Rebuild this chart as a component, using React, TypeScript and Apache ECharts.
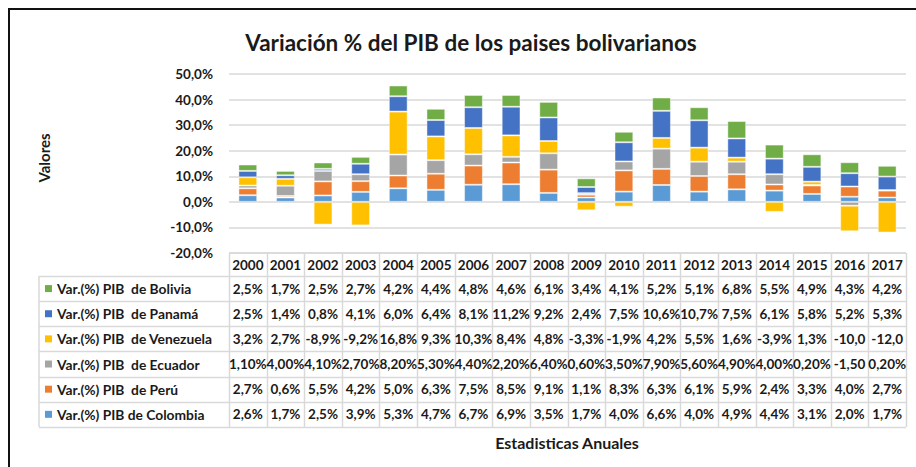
import React, { useEffect, useRef } from "react";
import * as echarts from "echarts";

const years = ["2000","2001","2002","2003","2004","2005","2006","2007","2008","2009","2010","2011","2012","2013","2014","2015","2016","2017"];
const colombia = [2.6,1.7,2.5,3.9,5.3,4.7,6.7,6.9,3.5,1.7,4.0,6.6,4.0,4.9,4.4,3.1,2.0,1.7];
const peru = [2.7,0.6,5.5,4.2,5.0,6.3,7.5,8.5,9.1,1.1,8.3,6.3,6.1,5.9,2.4,3.3,4.0,2.7];
const ecuador = [1.1,4.0,4.1,2.7,8.2,5.3,4.4,2.2,6.4,0.6,3.5,7.9,5.6,4.9,4.0,0.2,-1.5,0.2];
const venezuela = [3.2,2.7,-8.9,-9.2,16.8,9.3,10.3,8.4,4.8,-3.3,-1.9,4.2,5.5,1.6,-3.9,1.3,-10.0,-12.0];
const panama = [2.5,1.4,0.8,4.1,6.0,6.4,8.1,11.2,9.2,2.4,7.5,10.6,10.7,7.5,6.1,5.8,5.2,5.3];
const bolivia = [2.5,1.7,2.5,2.7,4.2,4.4,4.8,4.6,6.1,3.4,4.1,5.2,5.1,6.8,5.5,4.9,4.3,4.2];

const seriesDefs = [
  { name: "Var.(%) PIB de Colombia", data: colombia, color: "#5B9BD5", decimals: 1 },
  { name: "Var.(%) PIB  de Perú", data: peru, color: "#ED7D31", decimals: 1 },
  { name: "Var.(%) PIB  de Ecuador", data: ecuador, color: "#A5A5A5", decimals: 2 },
  { name: "Var.(%) PIB  de Venezuela", data: venezuela, color: "#FFC000", decimals: 1 },
  { name: "Var.(%) PIB  de Panamá", data: panama, color: "#4472C4", decimals: 1 },
  { name: "Var.(%) PIB  de Bolivia", data: bolivia, color: "#70AD47", decimals: 1 },
];

const title = "Variación % del PIB de los paises bolivarianos";
const yTitle = "Valores";
const xTitle = "Estadisticas Anuales";

const FONT = "Lato, 'Open Sans', sans-serif";

function fmt(v: number, d: number): string {
  const s = v.toFixed(d).replace(".", ",") + "%";
  return s.length > 5 ? s.slice(0, -1) : s;
}

export default function App() {
  const ref = useRef<HTMLDivElement>(null);
  useEffect(() => {
    if (!ref.current) return;
    const chart = echarts.init(ref.current, null, { renderer: "svg" });
    const W = 916;
    const gridLeft = 229;
    const gridRight = 906;
    const gridTop = 74;
    const gridBottomY = 253;
    const colW = (gridRight - gridLeft) / years.length;
    const headerBottom = 276;
    const rowH = 25.15;
    const tableLeft = 39;
    const lineColor = "#d9d9d9";

    const graphics: any[] = [];
    graphics.push({ type: "rect", shape: { x: 9, y: 9, width: 1200, height: 1200 }, style: { fill: "none", stroke: "#111", lineWidth: 2 }, silent: true });
    const rows = seriesDefs.slice().reverse();
    const tableBottom = headerBottom + rowH * rows.length;
    for (let k = 0; k <= years.length; k++) {
      const x = Math.round(gridLeft + colW * k) + 0.5;
      graphics.push({ type: "line", shape: { x1: x, y1: gridBottomY, x2: x, y2: tableBottom }, style: { stroke: lineColor, lineWidth: 1.5 }, silent: true });
    }
    graphics.push({ type: "line", shape: { x1: tableLeft, y1: headerBottom, x2: tableLeft, y2: tableBottom }, style: { stroke: lineColor, lineWidth: 1.5 }, silent: true });
    graphics.push({ type: "line", shape: { x1: gridLeft, y1: gridBottomY, x2: gridRight, y2: gridBottomY }, style: { stroke: lineColor, lineWidth: 1.5 }, silent: true });
    for (let r = 0; r <= rows.length; r++) {
      const y = Math.round(headerBottom + rowH * r) + 0.5;
      graphics.push({ type: "line", shape: { x1: tableLeft, y1: y, x2: gridRight, y2: y }, style: { stroke: lineColor, lineWidth: 1.5 }, silent: true });
    }
    rows.forEach((s, r) => {
      const cy = headerBottom + rowH * (r + 0.5);
      graphics.push({ type: "rect", shape: { x: 45, y: cy - 3.5, width: 7, height: 7 }, style: { fill: s.color }, silent: true });
      graphics.push({ type: "text", x: 57, y: cy, style: { text: s.name, fontFamily: FONT, fontSize: 13.8, fontWeight: "bold", fill: "#1a1a1a", align: "left", verticalAlign: "middle" }, silent: true });
      s.data.forEach((v, i) => {
        graphics.push({ type: "text", x: gridLeft + colW * (i + 0.5), y: cy, style: { text: fmt(v, s.decimals), fontFamily: FONT, fontSize: 13.5, fontWeight: "bold", fill: "#1a1a1a", align: "center", verticalAlign: "middle" }, silent: true });
      });
    });
    graphics.push({ type: "text", x: 567, y: 442, style: { text: xTitle, fontFamily: FONT, fontSize: 16, fontWeight: "bold", fill: "#1a1a1a", align: "center", verticalAlign: "middle" }, silent: true });
    graphics.push({ type: "text", x: 44, y: 158, rotation: Math.PI / 2, style: { text: yTitle, fontFamily: FONT, fontSize: 15, fontWeight: "bold", fill: "#1a1a1a", align: "center", verticalAlign: "middle" }, silent: true });

    chart.setOption({
      animation: false,
      backgroundColor: "#fff",
      title: {
        text: title,
        left: 466,
        top: 26,
        textAlign: "center",
        textStyle: { fontFamily: FONT, fontSize: 22.5, fontWeight: "bold", color: "#1a1a1a" },
      },
      grid: { left: gridLeft, right: W - gridRight, top: gridTop, bottom: 467 - gridBottomY, containLabel: false },
      xAxis: {
        type: "category",
        data: years,
        axisLine: { show: false, onZero: false },
        axisTick: { show: false },
        axisLabel: { interval: 0, fontFamily: FONT, fontSize: 13.5, fontWeight: "bold", color: "#1a1a1a", margin: 5 },
      },
      yAxis: {
        type: "value",
        min: -20,
        max: 50,
        interval: 10,
        axisLine: { show: false },
        axisTick: { show: false },
        splitLine: { lineStyle: { color: lineColor, width: 1.5 } },
        axisLabel: {
          fontFamily: FONT, fontSize: 13.5, fontWeight: "bold", color: "#1a1a1a", margin: 16,
          formatter: (v: number) => v.toFixed(1).replace(".", ",") + "%",
        },
      },
      series: seriesDefs.map((s) => ({
        name: s.name,
        type: "bar",
        stack: "total",
        data: s.data,
        barWidth: "50%",
        itemStyle: { color: s.color, borderColor: "rgba(255,255,255,0.45)", borderWidth: 1 },
      })),
      graphic: graphics,
    });
    return () => chart.dispose();
  }, []);
  return (
    <div
      ref={ref}
      style={{ position: "fixed", left: 0, top: 0, width: 916, height: 467, background: "#fff" }}
    />
  );
}
